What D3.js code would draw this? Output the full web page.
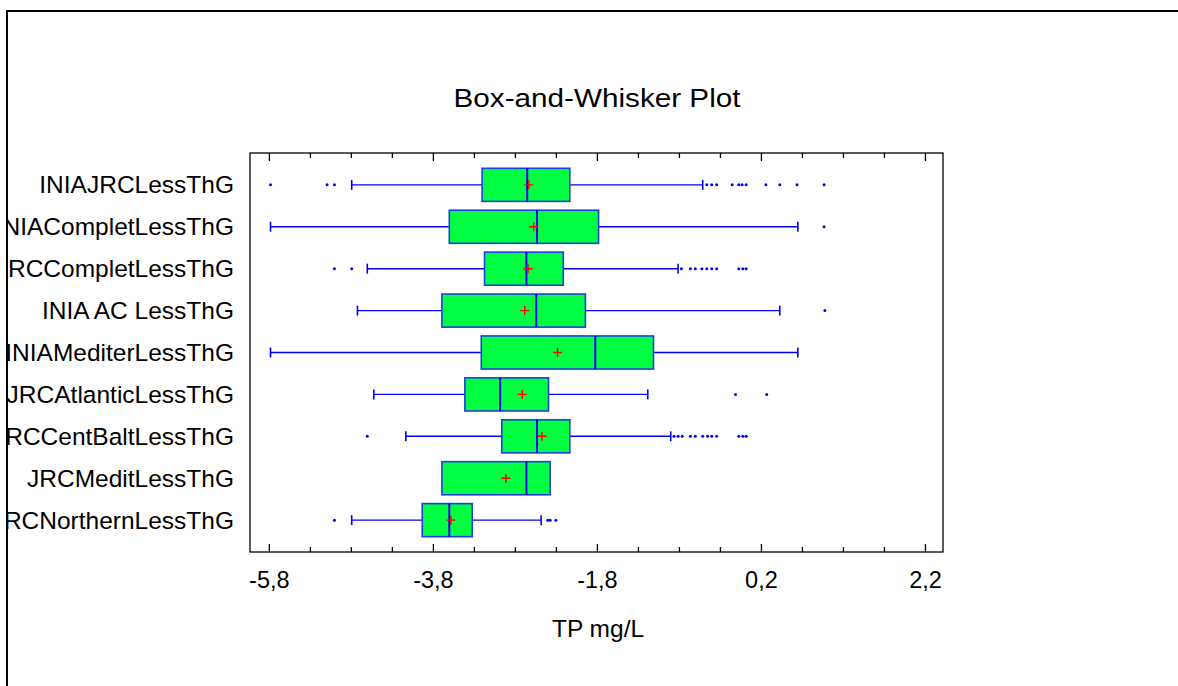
<!DOCTYPE html>
<html>
<head>
<meta charset="utf-8">
<script src="https://cdn.jsdelivr.net/npm/d3@7/dist/d3.min.js"></script>
<style>
  html, body { margin: 0; padding: 0; background: #fff; }
  svg { display: block; }
  text { font-family: "Liberation Sans", Arial, sans-serif; fill: #000; }
</style>
</head>
<body>
<svg id="chart" width="1178" height="686"></svg>
<script>
const categories = ["INIAJRCLessThG", "INIACompletLessThG", "JRCCompletLessThG", "INIA AC LessThG",
  "INIAMediterLessThG", "JRCAtlanticLessThG", "JRCCentBaltLessThG", "JRCMeditLessThG", "JRCNorthernLessThG"];
const whiskerLow  = [-4.79, -5.78, -4.60, -4.72, -5.78, -4.52, -4.13, -3.69, -4.79];
const q1          = [-3.20, -3.60, -3.17, -3.69, -3.21, -3.41, -2.96, -3.69, -3.93];
const median      = [-2.65, -2.53, -2.66, -2.54, -1.82, -2.98, -2.53, -2.66, -3.60];
const q3          = [-2.13, -1.78, -2.21, -1.94, -1.11, -2.39, -2.13, -2.37, -3.32];
const whiskerHigh = [-0.51,  0.65, -0.81,  0.43,  0.65, -1.18, -0.90, -2.37, -2.48];
const means       = [-2.63, -2.57, -2.64, -2.68, -2.28, -2.71, -2.47, -2.91, -3.58];
const outliers = [
  [-5.78, -5.09, -5.00, -0.46, -0.40, -0.34, -0.15, -0.07, -0.03, 0.02, 0.26, 0.43, 0.64, 0.97],
  [0.97],
  [-5.00, -4.79, -0.77, -0.66, -0.60, -0.52, -0.46, -0.40, -0.34, -0.07, -0.02, 0.02],
  [0.98],
  [],
  [-0.11, 0.27],
  [-4.60, -0.86, -0.81, -0.76, -0.66, -0.60, -0.51, -0.45, -0.40, -0.34, -0.07, -0.02, 0.02],
  [],
  [-5.00, -2.40, -2.37, -2.30]
];
const majorTicks = [-5.8, -3.8, -1.8, 0.2, 2.2];
const minorTicks = d3.range(0, 17).map(i => +(-5.8 + i * 0.5).toFixed(2));
const xDomain = [-6.03, 2.42];
const title = "Box-and-Whisker Plot";
const xTitle = "TP mg/L";

const svg = d3.select("#chart");
const plot = { left: 250, right: 943, top: 153, bottom: 552 };

const x = d3.scaleLinear().domain(xDomain).range([plot.left, plot.right]);
const y = d3.scalePoint().domain(categories).range([plot.top, plot.bottom]).padding(0.76);
const step = y.step();
const boxH = step * 0.79;
const capH = 10;

// outer border
svg.append("path")
  .attr("d", `M7,686 V11 H1178`)
  .attr("fill", "none").attr("stroke", "#000").attr("stroke-width", 2);

// clip for labels (clipped at border)
svg.append("defs").append("clipPath").attr("id", "clipL")
  .append("rect").attr("x", 8).attr("y", 12).attr("width", 1170).attr("height", 674);

// title
svg.append("text").attr("x", 597).attr("y", 107).attr("text-anchor", "middle")
  .attr("font-size", 25).attr("textLength", 287).attr("lengthAdjust", "spacingAndGlyphs")
  .text(title);

// plot frame
svg.append("rect").attr("x", plot.left).attr("y", plot.top)
  .attr("width", plot.right - plot.left).attr("height", plot.bottom - plot.top)
  .attr("fill", "none").attr("stroke", "#000").attr("stroke-width", 1.3);

// bottom axis using d3 axis (ticks inward)
const axisMajor = d3.axisBottom(x).tickValues(majorTicks).tickSizeInner(-8).tickSizeOuter(0)
  .tickFormat(d => d3.format(".1f")(d).replace(".", ",").replace("−", "-"));
const gAx = svg.append("g").attr("transform", `translate(0,${plot.bottom})`).call(axisMajor);
gAx.select(".domain").remove();
gAx.selectAll("line").attr("stroke", "#000").attr("stroke-width", 1.3);
gAx.selectAll("text").attr("y", 36).attr("dy", 0).attr("font-size", 23.5)
  .attr("font-family", "Liberation Sans, Arial, sans-serif").attr("fill", "#000");

const minorOnly = minorTicks.filter(t => !majorTicks.some(m => Math.abs(m - t) < 1e-6));
const axisMinor = d3.axisBottom(x).tickValues(minorOnly).tickSizeInner(-5).tickSizeOuter(0).tickFormat("");
const gAxm = svg.append("g").attr("transform", `translate(0,${plot.bottom})`).call(axisMinor);
gAxm.select(".domain").remove();
gAxm.selectAll("line").attr("stroke", "#000").attr("stroke-width", 1.3);

// top ticks (inward)
const axisTopMaj = d3.axisTop(x).tickValues(majorTicks).tickSizeInner(-8).tickSizeOuter(0).tickFormat("");
const gT = svg.append("g").attr("transform", `translate(0,${plot.top})`).call(axisTopMaj);
gT.select(".domain").remove();
gT.selectAll("line").attr("stroke", "#000").attr("stroke-width", 1.3);
const axisTopMin = d3.axisTop(x).tickValues(minorOnly).tickSizeInner(-5).tickSizeOuter(0).tickFormat("");
const gTm = svg.append("g").attr("transform", `translate(0,${plot.top})`).call(axisTopMin);
gTm.select(".domain").remove();
gTm.selectAll("line").attr("stroke", "#000").attr("stroke-width", 1.3);

// x title
svg.append("text").attr("x", 598).attr("y", 637).attr("text-anchor", "middle")
  .attr("font-size", 24.5).text(xTitle);

// category labels
svg.append("g").attr("clip-path", "url(#clipL)")
  .selectAll("text").data(categories).join("text")
  .attr("x", 234).attr("y", d => y(d) + 8.5).attr("text-anchor", "end")
  .attr("font-size", 24.5).text(d => d);

const blue = "#0000ff";
const rows = categories.map((c, i) => ({ c, i }));
const g = svg.append("g");

// whiskers
rows.forEach(({ c, i }) => {
  const cy = y(c);
  if (whiskerLow[i] < q1[i]) {
    g.append("line").attr("x1", x(whiskerLow[i])).attr("x2", x(q1[i])).attr("y1", cy).attr("y2", cy)
      .attr("stroke", blue).attr("stroke-width", 1.4);
    g.append("line").attr("x1", x(whiskerLow[i])).attr("x2", x(whiskerLow[i]))
      .attr("y1", cy - capH / 2).attr("y2", cy + capH / 2).attr("stroke", blue).attr("stroke-width", 1.6);
  }
  if (whiskerHigh[i] > q3[i]) {
    g.append("line").attr("x1", x(q3[i])).attr("x2", x(whiskerHigh[i])).attr("y1", cy).attr("y2", cy)
      .attr("stroke", blue).attr("stroke-width", 1.4);
    g.append("line").attr("x1", x(whiskerHigh[i])).attr("x2", x(whiskerHigh[i]))
      .attr("y1", cy - capH / 2).attr("y2", cy + capH / 2).attr("stroke", blue).attr("stroke-width", 1.6);
  }
});

// boxes
g.selectAll("rect.box").data(rows).join("rect").attr("class", "box")
  .attr("x", d => x(q1[d.i])).attr("width", d => x(q3[d.i]) - x(q1[d.i]))
  .attr("y", d => y(d.c) - boxH / 2).attr("height", boxH)
  .attr("fill", "#00ff40").attr("stroke", "#1f3fe0").attr("stroke-width", 1.6);

// medians
g.selectAll("line.med").data(rows).join("line").attr("class", "med")
  .attr("x1", d => x(median[d.i])).attr("x2", d => x(median[d.i]))
  .attr("y1", d => y(d.c) - boxH / 2).attr("y2", d => y(d.c) + boxH / 2)
  .attr("stroke", blue).attr("stroke-width", 2);

// means (red plus)
const pl = 4.5;
g.selectAll("path.mean").data(rows).join("path").attr("class", "mean")
  .attr("d", d => {
    const mx = x(means[d.i]), my = y(d.c);
    return `M${mx - pl},${my}H${mx + pl}M${mx},${my - pl}V${my + pl}`;
  })
  .attr("stroke", "#ff0000").attr("stroke-width", 1.4).attr("fill", "none");

// outliers
rows.forEach(({ c, i }) => {
  g.selectAll(null).data(outliers[i]).join("circle")
    .attr("cx", v => x(v)).attr("cy", y(c)).attr("r", 1.5).attr("fill", blue);
});
</script>
</body>
</html>
